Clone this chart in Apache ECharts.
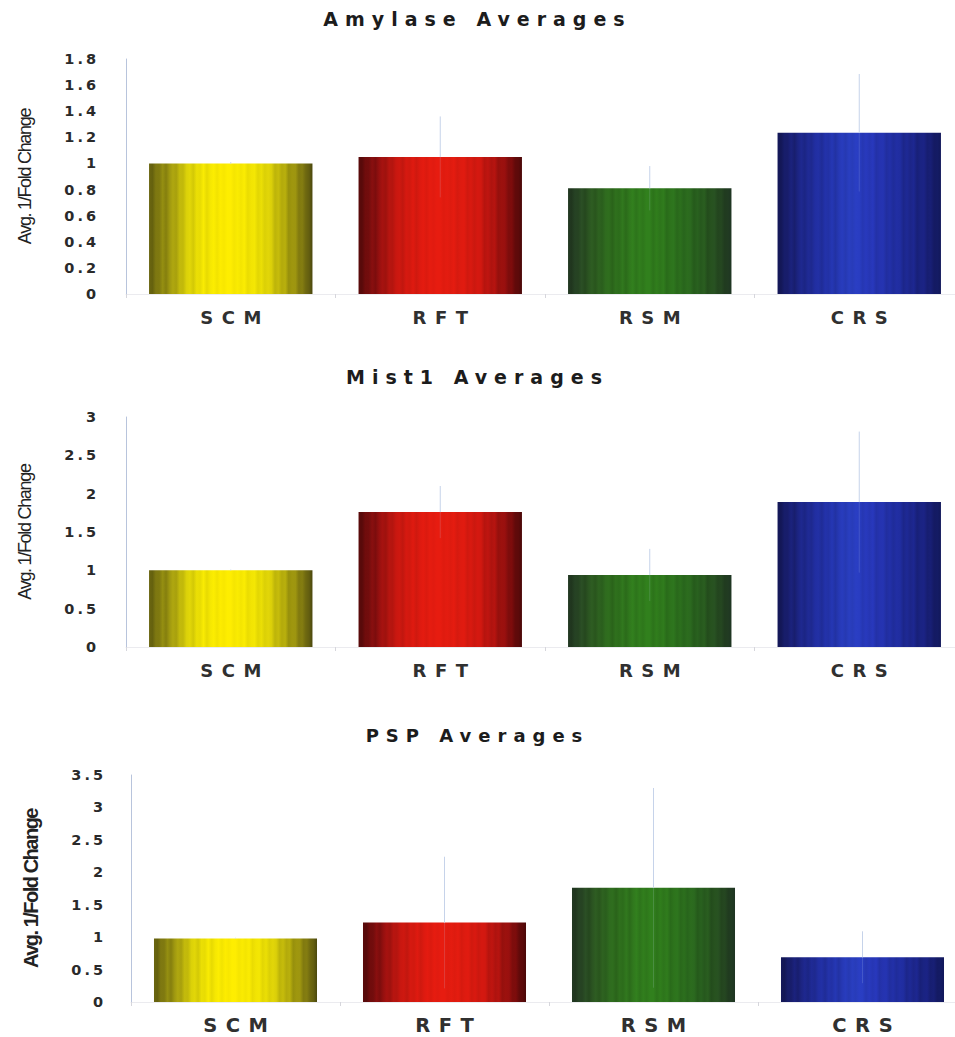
<!DOCTYPE html>
<html>
<head>
<meta charset="utf-8">
<script src="https://cdn.jsdelivr.net/npm/echarts@6/dist/echarts.min.js"></script>
<style>
  html, body { margin: 0; padding: 0; background: #ffffff; }
  #chart { width: 955px; height: 1037px; }
  /* wide, spaced-out lettering for titles and axis labels */
  #chart text[style*="Verdana"]   { letter-spacing: 7px; }
  #chart text[style*="Tahoma"]    { letter-spacing: 3px; }
  #chart text[style*="Geneva"]    { letter-spacing: 8.5px; }
  /* tight lettering for the vertical axis names */
  #chart text[style*="Arial"]     { letter-spacing: -1.3px; }
  #chart text[style*="Helvetica"] { letter-spacing: -1.5px; }
</style>
</head>
<body>
<div id="chart"></div>
<script>
// ---- data -------------------------------------------------------------
const categories = ['SCM', 'RFT', 'RSM', 'CRS'];
const panelTitles = ['Amylase Averages', 'Mist1 Averages', 'PSP Averages'];
const yAxisName = 'Avg. 1/Fold Change';

const amylaseMeans = [1.00, 1.05, 0.81, 1.235];
const amylaseErrors = [0.01, 0.31, 0.17, 0.45];

const mist1Means = [1.00, 1.76, 0.94, 1.89];
const mist1Errors = [0.01, 0.34, 0.34, 0.92];

const pspMeans = [0.98, 1.225, 1.76, 0.69];
const pspErrors = [0.01, 1.015, 1.54, 0.40];

// y axis ticks: [min, max, interval]
const amylaseTicks = [0, 1.8, 0.2];
const mist1Ticks = [0, 3, 0.5];
const pspTicks = [0, 3.5, 0.5];

// ---- styling ----------------------------------------------------------
function hexToRgb(h) {
  return [parseInt(h.slice(1, 3), 16), parseInt(h.slice(3, 5), 16), parseInt(h.slice(5, 7), 16)];
}
function colorAt(stops, t) {
  for (let k = 1; k < stops.length; k++) {
    if (t <= stops[k][0]) {
      const a = stops[k - 1], b = stops[k];
      const f = (t - a[0]) / (b[0] - a[0] || 1);
      const ca = hexToRgb(a[1]), cb = hexToRgb(b[1]);
      return ca.map((v, n) => v + (cb[n] - v) * f);
    }
  }
  return hexToRgb(stops[stops.length - 1][1]);
}
// ribbed shading: a smooth left-to-right profile with fine vertical bands
const ribs = [1, 0.86, 0.97, 0.9, 1, 0.84, 0.95, 1, 0.88, 0.98, 0.9, 1];
function ribbed(stops, depth) {
  const out = [];
  const n = 48;
  for (let k = 0; k <= n; k++) {
    const t = k / n;
    const edge = Math.min(1, Math.abs(t - 0.5) * 2.4);
    const r = 1 - (1 - ribs[k % ribs.length]) * (depth + (1 - depth) * edge);
    const c = colorAt(stops, t).map(v => Math.round(Math.max(0, Math.min(255, v * r))));
    out.push({ offset: t, color: 'rgb(' + c.join(',') + ')' });
  }
  return { type: 'linear', x: 0, y: 0, x2: 1, y2: 0, colorStops: out };
}
const barFills = [
  ribbed([[0, '#6a6510'], [0.06, '#8c8612'], [0.14, '#aca410'], [0.22, '#d8ce0a'],
          [0.32, '#f8eb03'], [0.45, '#ffee00'], [0.6, '#fbec02'], [0.7, '#ece006'],
          [0.8, '#c8be0c'], [0.9, '#9c9410'], [0.96, '#7a7412'], [1, '#4a470e']], 0.2),
  ribbed([[0, '#5a0a0a'], [0.06, '#7e0e0e'], [0.12, '#9a1010'], [0.2, '#c01610'],
          [0.3, '#dc1a10'], [0.45, '#e81c10'], [0.62, '#e41c10'], [0.74, '#d41810'],
          [0.84, '#b41410'], [0.92, '#8e0e0e'], [1, '#4a0808']], 0.2),
  ribbed([[0, '#223822'], [0.06, '#2a4a26'], [0.14, '#2e5c22'], [0.25, '#2f6e1e'],
          [0.4, '#32801e'], [0.55, '#31801d'], [0.7, '#2c701e'], [0.82, '#2a6020'],
          [0.92, '#284e22'], [1, '#1e3422']], 0.7),
  ribbed([[0, '#14185a'], [0.06, '#1a2076'], [0.15, '#1e2890'], [0.3, '#2434b0'],
          [0.45, '#2a40c4'], [0.58, '#2838be'], [0.7, '#2230a8'], [0.82, '#1e2894'],
          [0.92, '#1a2280'], [1, '#12185a']], 0.5)
];

const panels = [
  { title: panelTitles[0], means: amylaseMeans, errors: amylaseErrors, ticks: amylaseTicks,
    grid: { left: 126, top: 59, width: 838, height: 235 }, titleTop: 9,
    titleSize: 19, catSize: 18, tickMargin: 27, catMargin: 14,
    nameSize: 18, nameWeight: 'normal', nameFont: 'Liberation Sans, Arial', nameGap: 92 },
  { title: panelTitles[1], means: mist1Means, errors: mist1Errors, ticks: mist1Ticks,
    grid: { left: 126, top: 417, width: 838, height: 230 }, titleTop: 367.5,
    titleSize: 19, catSize: 18, tickMargin: 27, catMargin: 14,
    nameSize: 18, nameWeight: 'normal', nameFont: 'Liberation Sans, Arial', nameGap: 92 },
  { title: panelTitles[2], means: pspMeans, errors: pspErrors, ticks: pspTicks,
    grid: { left: 131, top: 775, width: 836, height: 227 }, titleTop: 726.5,
    titleSize: 18, catSize: 19.5, tickMargin: 25, catMargin: 13,
    nameSize: 20, nameWeight: 'bold', nameFont: 'Liberation Sans, Helvetica', nameGap: 90 }
];

const option = {
  backgroundColor: '#ffffff',
  animation: false,
  title: [], grid: [], xAxis: [], yAxis: [], series: []
};

panels.forEach((p, i) => {
  option.title.push({
    text: p.title, left: 'center', top: p.titleTop, padding: [0, 0, 0, 7],
    textStyle: { fontFamily: 'DejaVu Sans, Verdana', fontWeight: 'bold', fontSize: p.titleSize, color: '#1c1c1c' }
  });
  option.grid.push(Object.assign({ containLabel: false, outerBoundsMode: 'none' }, p.grid));
  option.xAxis.push({
    type: 'category', gridIndex: i, data: categories,
    axisLine: { show: true, lineStyle: { color: '#ebebef', width: 1 } },
    axisTick: { show: true, length: 4, lineStyle: { color: '#d6d6dc' } },
    axisLabel: {
      margin: p.catMargin, padding: [0, 0, 0, 8.5],
      fontFamily: 'DejaVu Sans, Geneva', fontWeight: 'bold', fontSize: p.catSize, color: '#303030'
    },
    splitLine: { show: false }
  });
  option.yAxis.push({
    type: 'value', gridIndex: i,
    min: p.ticks[0], max: p.ticks[1], interval: p.ticks[2],
    name: yAxisName, nameLocation: 'middle', nameGap: p.nameGap, nameRotate: 90,
    nameTextStyle: { fontFamily: p.nameFont, fontSize: p.nameSize, fontWeight: p.nameWeight, color: '#222222' },
    axisLine: { show: true, lineStyle: { color: '#b8c4dc', width: 1 } },
    axisTick: { show: false },
    splitLine: { show: false },
    axisLabel: {
      margin: p.tickMargin, fontFamily: 'DejaVu Sans, Tahoma', fontWeight: 'bold', fontSize: 14.5, color: '#2a2a2a'
    }
  });
  option.series.push({
    type: 'bar', xAxisIndex: i, yAxisIndex: i,
    barCategoryGap: '22%',
    data: p.means.map((v, j) => ({ value: v, itemStyle: { color: barFills[j] } })),
    z: 2
  });
  option.series.push({
    type: 'custom', xAxisIndex: i, yAxisIndex: i, silent: true, z: 3,
    encode: { x: 0, y: 1 },
    data: p.means.map((m, j) => [j, m, p.errors[j]]),
    renderItem(params, api) {
      const x = api.value(0), m = api.value(1), e = api.value(2);
      const top = api.coord([x, m + e]);
      const mid = api.coord([x, m]);
      const bot = api.coord([x, m - e]);
      return {
        type: 'group',
        children: [
          { type: 'line', shape: { x1: top[0], y1: top[1], x2: mid[0], y2: mid[1] },
            style: { stroke: '#c6d3ea', lineWidth: 1 } },
          { type: 'line', shape: { x1: mid[0], y1: mid[1], x2: bot[0], y2: bot[1] },
            style: { stroke: 'rgba(190,205,232,0.18)', lineWidth: 1 } }
        ]
      };
    }
  });
});

const chart = echarts.init(document.getElementById('chart'), null, { renderer: 'svg' });
chart.setOption(option);
</script>
</body>
</html>
